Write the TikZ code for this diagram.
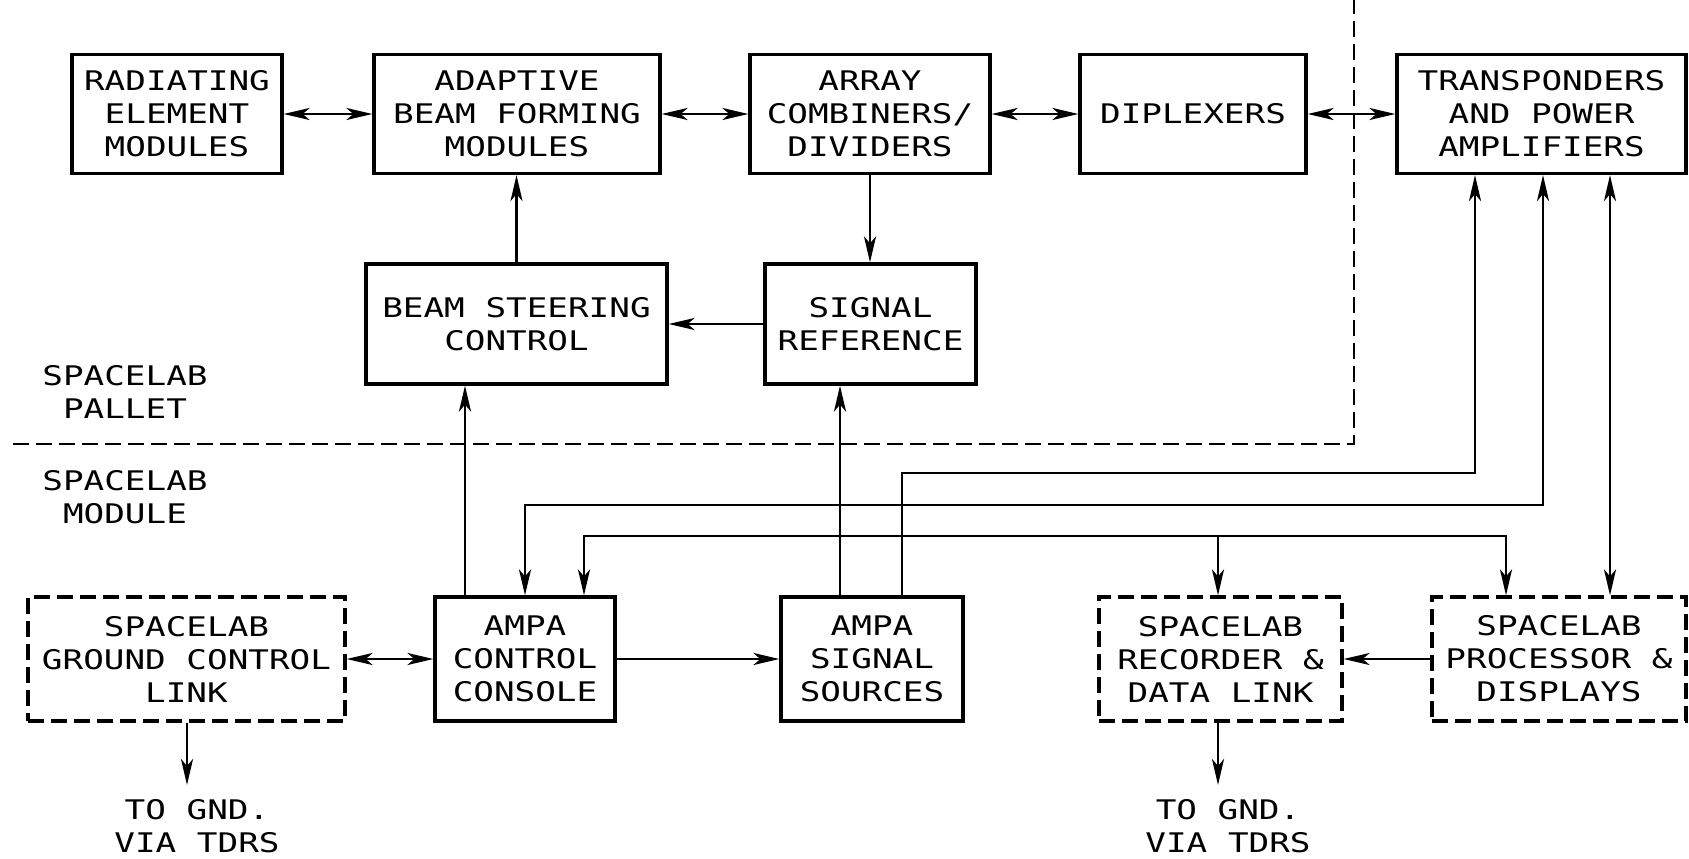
\documentclass[tikz,border=0pt]{standalone}
\usepackage{fontspec}
\newfontfamily\plotfont[FakeStretch=1.27]{DejaVu Sans Mono}
\usetikzlibrary{arrows.meta}
\tikzset{
  blk/.style={draw, line width=3.2pt, rectangle, inner sep=0pt, align=center,
    font=\plotfont\fontsize{27}{33}\selectfont},
  dblk/.style={blk, dash pattern=on 16pt off 7pt},
  conn/.style={line width=2.8pt},
  fwd/.style={conn, -{Stealth[length=26pt,width=12pt,inset=7pt]}},
  both/.style={conn, {Stealth[length=26pt,width=12pt,inset=7pt]}-{Stealth[length=26pt,width=12pt,inset=7pt]}},
  lbl/.style={align=center, inner sep=0pt, font=\plotfont\fontsize{27}{33}\selectfont},
  bound/.style={line width=2.8pt, dash pattern=on 16pt off 7pt}
}
\begin{document}
\begin{tikzpicture}[x=1pt,y=-1pt]
\useasboundingbox[fill=white] (0,0) rectangle (1689,859);
% top row
\node[blk, minimum width=210pt, minimum height=119pt] (rad) at (177,114) {RADIATING\\ELEMENT\\MODULES};
\node[blk, minimum width=286pt, minimum height=119pt] (abf) at (517,114) {ADAPTIVE\\BEAM FORMING\\MODULES};
\node[blk, minimum width=240pt, minimum height=119pt] (acd) at (870,114) {ARRAY\\COMBINERS/\\DIVIDERS};
\node[blk, minimum width=226pt, minimum height=119pt] (dip) at (1193,114) {DIPLEXERS};
\node[blk, minimum width=289pt, minimum height=119pt] (tpa) at (1541.5,114) {TRANSPONDERS\\AND POWER\\AMPLIFIERS};
% second row
\node[blk, minimum width=301pt, minimum height=120pt] (bsc) at (516.5,324) {BEAM STEERING\\CONTROL};
\node[blk, minimum width=211pt, minimum height=120pt] (sref) at (870.5,324) {SIGNAL\\REFERENCE};
% bottom row
\node[dblk, minimum width=317pt, minimum height=124pt] (gcl) at (186.5,659) {SPACELAB\\GROUND CONTROL\\LINK};
\node[blk, minimum width=180pt, minimum height=124pt] (acc) at (525,659) {AMPA\\CONTROL\\CONSOLE};
\node[blk, minimum width=182pt, minimum height=124pt] (ass) at (872,659) {AMPA\\SIGNAL\\SOURCES};
\node[dblk, minimum width=243pt, minimum height=124pt] (rdl) at (1220.5,659) {SPACELAB\\RECORDER \&\\DATA LINK};
\node[dblk, minimum width=254pt, minimum height=124pt] (pdd) at (1559,659) {SPACELAB\\PROCESSOR \&\\DISPLAYS};
% labels
\node[lbl] (pallet) at (125,392) {SPACELAB\\PALLET};
\node[lbl] (module) at (125,497) {SPACELAB\\MODULE};
\node[lbl] (gnd1) at (197,826) {TO GND.\\VIA TDRS};
\node[lbl] (gnd2) at (1228,826) {TO GND.\\VIA TDRS};
% boundary
\coordinate (b1) at (13,444);
\coordinate (b2) at (1354,444);
\coordinate (b3) at (1354,0);
\draw[bound] (b1) -- (b2) -- (b3);
% helper coordinates
\coordinate (x465) at (465,0);
\coordinate (x840) at (840,0);
\coordinate (w1) at (902,473);
\coordinate (w2) at (1475,473);
\coordinate (w3) at (1543,505);
\coordinate (w4) at (525,505);
\coordinate (w5) at (584,536);
\coordinate (w6) at (1506,536);
\coordinate (w7) at (1218,536);
\coordinate (w8) at (1610,0);
\coordinate (g1) at (187,785);
\coordinate (g2) at (1218,785);
% connectors top row
\draw[both] (rad) -- (abf);
\draw[both] (abf) -- (acd);
\draw[both] (acd) -- (dip);
\draw[both] (dip) -- (tpa);
\draw[fwd] (bsc.north) -- (bsc.north |- abf.south);
\draw[fwd] (acd.south) -- (acd.south |- sref.north);
\draw[fwd] (sref) -- (bsc);
\draw[fwd] (acc.north -| x465) -- (bsc.south -| x465);
\draw[fwd] (ass.north -| x840) -- (sref.south -| x840);
% routed lines
\draw[fwd] (ass.north -| w1) -- (w1) -- (w2) -- (tpa.south -| w2);
\draw[both] (tpa.south -| w3) -- (w3) -- (w4) -- (acc.north -| w4);
\draw[both] (acc.north -| w5) -- (w5) -- (w6) -- (pdd.north -| w6);
\draw[fwd] (w7) -- (rdl.north -| w7);
\draw[both] (tpa.south -| w8) -- (pdd.north -| w8);
% bottom row
\draw[both] (gcl) -- (acc);
\draw[fwd] (acc) -- (ass);
\draw[fwd] (pdd) -- (rdl);
\draw[fwd] (gcl.south -| g1) -- (g1);
\draw[fwd] (rdl.south -| g2) -- (g2);
\end{tikzpicture}
\end{document}
